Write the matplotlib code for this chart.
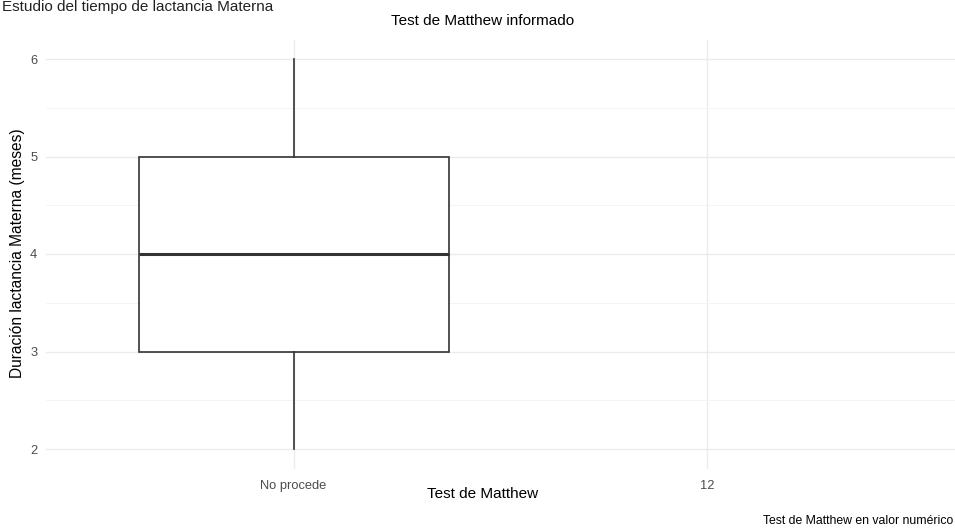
import matplotlib
matplotlib.use("Agg")
import matplotlib.pyplot as plt

categories = ["No procede", "12"]
box_stats = {"No procede": dict(whislo=2, q1=3, med=4, q3=5, whishi=6)}
y_ticks = [2, 3, 4, 5, 6]

W, H = 955, 531
fig = plt.figure(figsize=(W/100, H/100), dpi=100)
plt.rcParams['font.family'] = ['Liberation Sans', 'DejaVu Sans']

left, right, top, bottom = 45.6, 955, 39.5, 468.5
ax = fig.add_axes([left/W, 1-bottom/H, (right-left)/W, (bottom-top)/H])
for s in ax.spines.values():
    s.set_visible(False)
ax.set_xlim(0.4, 2.6)
ax.set_ylim(1.8, 6.2)

stats = []
for i, c in enumerate(categories):
    if c in box_stats:
        d = dict(box_stats[c]); d['fliers'] = []
        stats.append((i+1, d))
ax.bxp([s for _, s in stats], positions=[p for p, _ in stats], widths=0.75,
       patch_artist=True, showcaps=False,
       boxprops=dict(facecolor='white', edgecolor='#333333', linewidth=1.2),
       medianprops=dict(color='#333333', linewidth=2.2),
       whiskerprops=dict(color='#333333', linewidth=1.2), zorder=3)

ax.set_xticks(range(1, len(categories)+1))
ax.set_xticklabels(categories)
ax.set_yticks(y_ticks)
ax.set_yticks([2.5, 3.5, 4.5, 5.5], minor=True)
ax.tick_params(axis='both', length=0, labelsize=9.3, colors='#4d4d4d', pad=6)
ax.tick_params(axis='x', pad=8)
ax.tick_params(which='minor', length=0)
ax.grid(True, which='major', color='#ebebeb', linewidth=1.0, zorder=0)
ax.grid(True, which='minor', axis='y', color='#f3f3f3', linewidth=0.6, zorder=0)
ax.set_axisbelow(True)

fig.text(2/W, 1-7/H, "Estudio del tiempo de lactancia Materna", ha='left', va='center',
         fontsize=11, color='#222222')
fig.text(483/W, 1-21/H, "Test de Matthew informado", ha='center', va='center', fontsize=11)
fig.text(483/W, 1-494/H, "Test de Matthew", ha='center', va='center', fontsize=11)
fig.text(18/W, 1-253/H, "Duración lactancia Materna (meses)", ha='center', va='center',
         rotation=90, fontsize=11.2)
fig.text(953/W, 1-521/H, "Test de Matthew en valor numérico", ha='right', va='center', fontsize=8.8)

fig.savefig("out.png", dpi=100)
